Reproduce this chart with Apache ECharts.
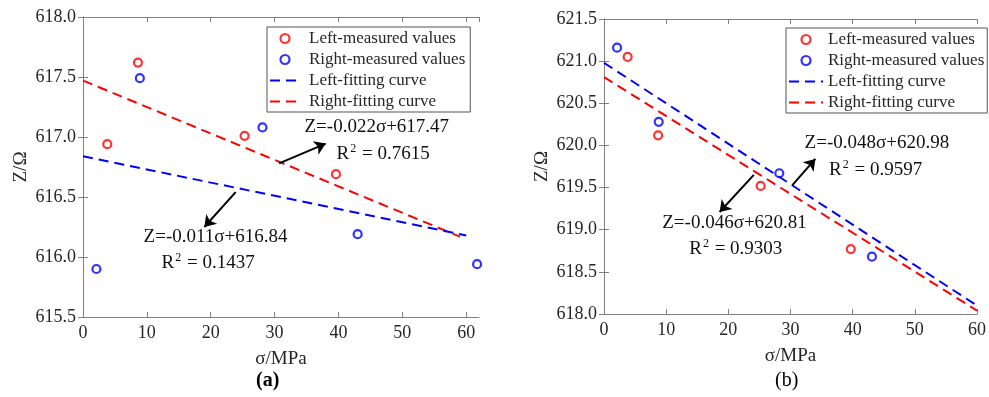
<!DOCTYPE html>
<html>
<head>
<meta charset="utf-8">
<script src="https://cdn.jsdelivr.net/npm/echarts@6/dist/echarts.min.js"></script>
<style>
html,body{margin:0;padding:0;background:#fff;}
#chart{width:989px;height:397px;}
</style>
</head>
<body>
<div id="chart"></div>
<script>
// ---------- data ----------
const seriesNames = ['Left-measured values', 'Right-measured values', 'Left-fitting curve', 'Right-fitting curve'];
const panelLabels = ['(a)', '(b)'];
const xAxisName = 'σ/MPa';
const yAxisName = 'Z/Ω';

// panel (a)
const aLeftMeasured  = [[3.8, 616.94], [8.6, 617.62], [25.3, 617.01], [39.6, 616.69]];
const aRightMeasured = [[2.1, 615.90], [8.9, 617.49], [28.1, 617.08], [43.0, 616.19], [61.7, 615.94]];
const aLeftFit  = [[0, 616.84], [60, 616.18]];
const aRightFit = [[0, 617.47], [59, 616.17]];
const aYRange = [615.5, 618.0];
const aXRange = [0, 62];

// panel (b)
const bLeftMeasured  = [[3.8, 621.05], [8.7, 620.12], [25.2, 619.52], [39.7, 618.77]];
const bRightMeasured = [[2.1, 621.16], [8.8, 620.28], [28.2, 619.67], [43.1, 618.68]];
const bLeftFit  = [[0, 620.98], [60, 618.10]];
const bRightFit = [[0, 620.81], [60, 618.04]];
const bYRange = [618.0, 621.5];
const bXRange = [0, 60];

// annotations (data coords): equation, R², arrow [from, to]
const aNotes = [
  {eq: 'Z=-0.022σ+617.47', eqAt: [46.0, 617.08], r2: '0.7615', r2At: [47.0, 616.86], arrow: [[30.7, 616.78], [38.0, 616.945]]},
  {eq: 'Z=-0.011σ+616.84', eqAt: [20.75, 616.17], r2: '0.1437', r2At: [19.6, 615.95], arrow: [[23.9, 616.54], [19.0, 616.25]]}
];
const bNotes = [
  {eq: 'Z=-0.048σ+620.98', eqAt: [43.9, 620.03], r2: '0.9597', r2At: [43.7, 619.71], arrow: [[30.3, 619.53], [34.0, 619.84]]},
  {eq: 'Z=-0.046σ+620.81', eqAt: [21.0, 619.08], r2: '0.9303', r2At: [21.2, 618.77], arrow: [[24.1, 619.65], [18.6, 619.21]]}
];

// ---------- styling ----------
const FONT = 'Liberation Serif';
const AX = '#808080';
const LBL = '#262626';
const RED = '#ff0000';
const BLUE = '#0000ff';

function mainX(gi, range, name) {
  return {
    type: 'value', gridIndex: gi, min: range[0], max: range[1], interval: 10, position: 'bottom',
    name: name, nameLocation: 'middle', nameGap: 33,
    nameTextStyle: {fontFamily: FONT, fontSize: 19, color: LBL},
    axisLine: {show: true, lineStyle: {color: AX, width: 1}},
    axisTick: {show: true, inside: true, length: 5, lineStyle: {color: AX}},
    axisLabel: {fontFamily: FONT, fontSize: 18, color: LBL, margin: 7, showMaxLabel: range[1] % 10 === 0},
    splitLine: {show: false}
  };
}
function topX(gi, range) {
  return {
    type: 'value', gridIndex: gi, min: range[0], max: range[1], interval: 10, position: 'top',
    axisLine: {show: true, lineStyle: {color: AX, width: 1}},
    axisTick: {show: true, inside: true, length: 5, lineStyle: {color: AX}},
    axisLabel: {show: false}, splitLine: {show: false}
  };
}
function mainY(gi, range, name) {
  return {
    type: 'value', gridIndex: gi, min: range[0], max: range[1], interval: 0.5, position: 'left',
    name: name, nameLocation: 'middle', nameGap: 52,
    nameTextStyle: {fontFamily: FONT, fontSize: 19, color: LBL},
    axisLine: {show: true, lineStyle: {color: AX, width: 1}},
    axisTick: {show: true, inside: true, length: 5, lineStyle: {color: AX}},
    axisLabel: {fontFamily: FONT, fontSize: 18, color: LBL, margin: 7, formatter: v => v.toFixed(1)},
    splitLine: {show: false}
  };
}
function rightY(gi, range) {
  return {
    type: 'value', gridIndex: gi, min: range[0], max: range[1], interval: 0.5, position: 'right',
    axisLine: {show: true, lineStyle: {color: AX, width: 1}},
    axisTick: {show: true, inside: true, length: 5, lineStyle: {color: AX}},
    axisLabel: {show: false}, splitLine: {show: false}
  };
}

function scatter(name, data, color, xi, yi) {
  return {
    type: 'scatter', name: name, data: data, xAxisIndex: xi, yAxisIndex: yi,
    symbol: 'circle', symbolSize: 8,
    itemStyle: {color: 'rgba(255,255,255,0)', borderColor: color, borderWidth: 2.2},
    silent: true
  };
}
function fit(name, data, color, xi, yi, notes) {
  const s = {
    type: 'line', name: name, data: data, xAxisIndex: xi, yAxisIndex: yi,
    symbol: 'none', color: color,
    lineStyle: {color: color, width: 2, type: [10, 6]},
    silent: true
  };
  if (notes) {
    s.markLine = {
      silent: true, symbol: ['none', 'arrow'], symbolSize: 11,
      itemStyle: {color: '#000'},
      lineStyle: {color: '#000', width: 2, type: 'solid'},
      label: {show: false},
      data: notes.map(n => [{coord: n.arrow[0]}, {coord: n.arrow[1]}])
    };
    const rich = {
      t: {fontFamily: FONT, fontSize: 19, color: '#111', lineHeight: 22},
      s: {fontFamily: FONT, fontSize: 12, color: '#111', lineHeight: 12, padding: [0, 1, 10, 1]}
    };
    const pts = [];
    notes.forEach(n => {
      pts.push({coord: n.eqAt, symbol: 'circle', symbolSize: 0,
        label: {show: true, position: 'inside', formatter: '{t|' + n.eq + '}', rich: rich}});
      pts.push({coord: n.r2At, symbol: 'circle', symbolSize: 0,
        label: {show: true, position: 'inside', formatter: '{t|R}{s|2}{t| = ' + n.r2 + '}', rich: rich}});
    });
    s.markPoint = {silent: true, data: pts, itemStyle: {color: 'transparent'}};
  }
  return s;
}

function legend(left, top, iw, pad, tpad) {
  const cols = [RED, BLUE];
  return {
    data: seriesNames.map((n, i) => i < 2
      ? {name: n, icon: 'circle', itemStyle: {color: 'rgba(255,255,255,0)', borderColor: cols[i], borderWidth: 2.2}}
      : {name: n, itemStyle: {color: 'transparent', borderWidth: 0, opacity: 0}}),
    orient: 'vertical', left: left, top: top,
    itemWidth: iw, itemHeight: 9, itemGap: 4,
    padding: pad, borderColor: '#555', borderWidth: 1, backgroundColor: '#fff',
    textStyle: {fontFamily: FONT, fontSize: 17, color: LBL, padding: [0, 0, 0, tpad]},
    selectedMode: false
  };
}

const option = {
  animation: false,
  backgroundColor: '#fff',
  textStyle: {fontFamily: FONT},
  grid: [
    {left: 83, top: 17, width: 396, height: 300},
    {left: 604, top: 19, width: 379, height: 295}
  ],
  xAxis: [mainX(0, aXRange, xAxisName), topX(0, aXRange), mainX(1, bXRange, xAxisName), topX(1, bXRange)],
  yAxis: [mainY(0, aYRange, yAxisName), rightY(0, aYRange), mainY(1, bYRange, yAxisName), rightY(1, bYRange)],
  legend: [legend(267, 27, 30, [3, 5, 2, 2], 4), legend(786, 28, 34, [3, 3, 2, 2], 0)],
  series: [
    fit(seriesNames[3], aRightFit, RED, 0, 0, null),
    fit(seriesNames[2], aLeftFit, BLUE, 0, 0, aNotes),
    scatter(seriesNames[0], aLeftMeasured, RED, 0, 0),
    scatter(seriesNames[1], aRightMeasured, BLUE, 0, 0),
    fit(seriesNames[3], bRightFit, RED, 2, 2, null),
    fit(seriesNames[2], bLeftFit, BLUE, 2, 2, bNotes),
    scatter(seriesNames[0], bLeftMeasured, RED, 2, 2),
    scatter(seriesNames[1], bRightMeasured, BLUE, 2, 2)
  ],
  graphic: [
    {type: 'text', left: 256, top: 371, style: {text: panelLabels[0], font: 'bold 20px "Liberation Serif"', fill: '#000'}},
    {type: 'text', left: 775, top: 371, style: {text: panelLabels[1], font: '20px "Liberation Serif"', fill: '#000'}}
  ]
};

const chart = echarts.init(document.getElementById('chart'), null, {renderer: 'canvas'});
chart.setOption(option);
</script>
</body>
</html>
